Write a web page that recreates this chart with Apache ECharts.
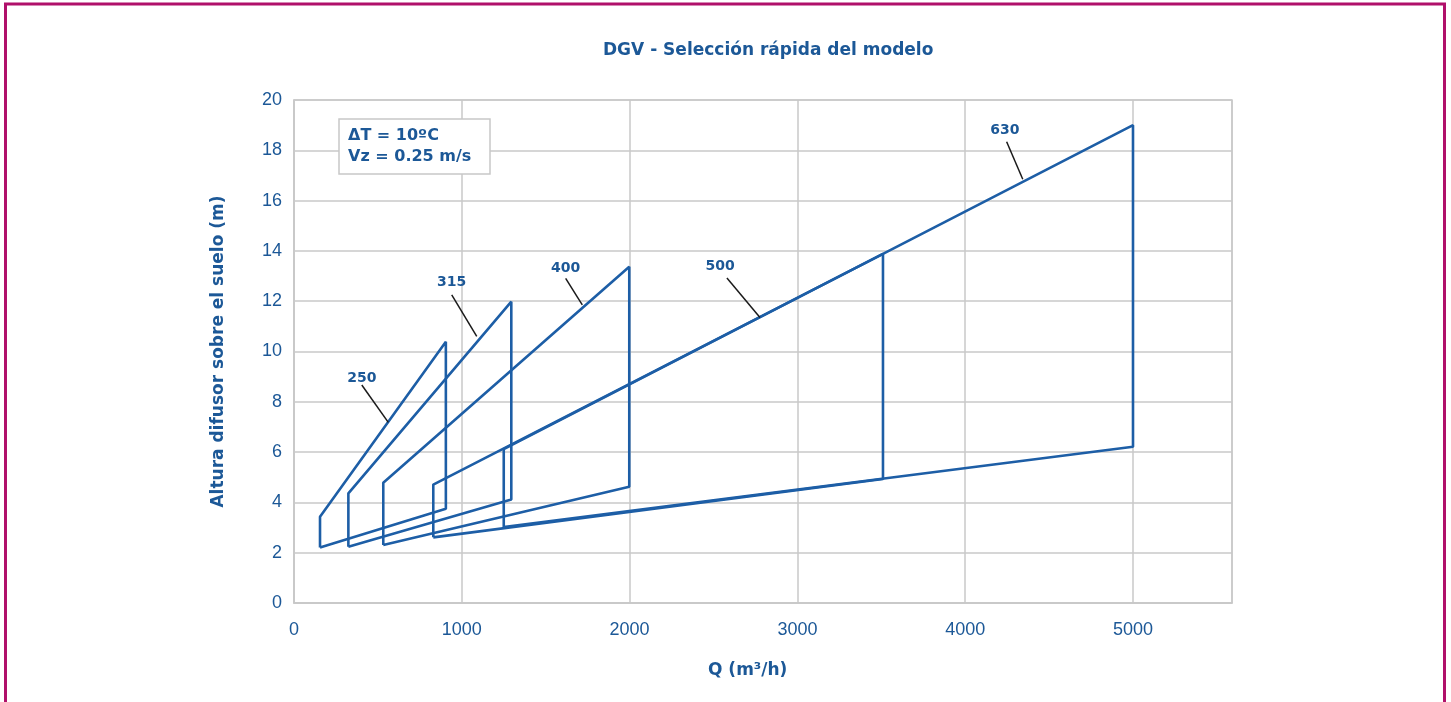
<!DOCTYPE html>
<html>
<head>
<meta charset="utf-8">
<script src="https://cdn.jsdelivr.net/npm/echarts@6/dist/echarts.min.js"></script>
<style>
html,body{margin:0;padding:0;background:#fff;}
#chart{width:1451px;height:702px;}
</style>
</head>
<body>
<div id="chart"></div>
<script>
// Models (diffuser size) and their selection boxes
var models = ['250', '315', '400', '500', '630'];
var qMin   = [155, 324, 532, 830, 1250];      // m3/h, left edge
var qMax   = [905, 1295, 1998, 3510, 5000];   // m3/h, right edge
var hLowAtMin  = [2.21, 2.24, 2.31, 2.61, 3.02];
var hHighAtMin = [3.43, 4.36, 4.78, 4.71, 6.12];
var hHighAtMax = [10.39, 11.98, 13.37, 13.88, 19.0];
var hLowAtMax  = [3.75, 4.12, 4.62, 4.93, 6.21];

// Callout labels: text anchor and leader line (data coordinates)
var labelAt    = [[404, 8.95], [940, 12.75], [1619, 13.3], [2539, 13.4], [4237, 18.8]];
var leaderFrom = [[404, 8.67], [940, 12.25], [1619, 12.91], [2580, 12.92], [4247, 18.34]];
var leaderTo   = [[562, 7.18], [1089, 10.6], [1718, 11.85], [2777, 11.35], [4343, 16.85]];

var xTicks = [0, 1000, 2000, 3000, 4000, 5000];
var yTicks = [0, 2, 4, 6, 8, 10, 12, 14, 16, 18, 20];

var BLUE = '#1d5ea6';
var TXT = '#1c5897';
var FONT = "'Liberation Sans', Arial, sans-serif";
var BFONT = "'DejaVu Sans', sans-serif";

var series = [];
models.forEach(function (m, i) {
  series.push({
    name: m,
    type: 'line',
    symbol: 'none',
    silent: true,
    lineStyle: { color: BLUE, width: 2.6 },
    data: [
      [qMin[i], hLowAtMin[i]],
      [qMin[i], hHighAtMin[i]],
      [qMax[i], hHighAtMax[i]],
      [qMax[i], hLowAtMax[i]],
      [qMin[i], hLowAtMin[i]]
    ],
    z: 3
  });
  series.push({
    type: 'line',
    symbol: 'none',
    silent: true,
    lineStyle: { color: '#1a1a1a', width: 1.5 },
    data: [leaderFrom[i], leaderTo[i]],
    z: 4
  });
});
series.push({
  type: 'scatter',
  symbolSize: 0.1,
  silent: true,
  itemStyle: { color: '#ffffff', opacity: 1 },
  label: {
    show: true, position: 'inside',
    formatter: function (p) { return models[p.dataIndex]; },
    color: TXT, fontFamily: BFONT, fontWeight: 'bold', fontSize: 14,
    textBorderWidth: 0
  },
  data: labelAt,
  z: 5
});

var chart = echarts.init(document.getElementById('chart'));
chart.setOption({
  animation: false,
  backgroundColor: '#fff',
  title: {
    text: 'DGV - Selección rápida del modelo',
    left: 598, top: 37,
    textStyle: { color: TXT, fontFamily: BFONT, fontWeight: 'bold', fontSize: 17 }
  },
  grid: {
    left: 294, right: 219, top: 100, bottom: 99,
    show: true, borderColor: '#c8c8c8', borderWidth: 1.5
  },
  xAxis: {
    type: 'value', min: 0, max: 5590, interval: 1000,
    axisLine: { show: true, lineStyle: { color: '#c8c8c8', width: 1.5 } },
    axisTick: { show: false },
    splitLine: { show: true, lineStyle: { color: '#c8c8c8', width: 1.5 } },
    axisLabel: {
      margin: 18, color: TXT, fontFamily: FONT, fontSize: 18,
      formatter: function (v) { return xTicks.indexOf(v) >= 0 ? String(v) : ''; }
    }
  },
  yAxis: {
    type: 'value', min: 0, max: 20, interval: 2,
    name: 'Altura difusor sobre el suelo (m)',
    nameLocation: 'middle', nameGap: 67, nameRotate: 90,
    nameTextStyle: { color: TXT, fontFamily: BFONT, fontWeight: 'bold', fontSize: 17 },
    axisLine: { show: true, lineStyle: { color: '#c8c8c8', width: 1.5 } },
    axisTick: { show: false },
    splitLine: { show: true, lineStyle: { color: '#c8c8c8', width: 1.5 } },
    axisLabel: {
      margin: 12, color: TXT, fontFamily: FONT, fontSize: 18,
      formatter: function (v) { return yTicks.indexOf(v) >= 0 ? String(v) : ''; }
    }
  },
  graphic: [
    {
      type: 'rect', silent: true,
      shape: { x: 5.5, y: 4, width: 1439, height: 720 },
      style: { fill: 'none', stroke: '#b0106a', lineWidth: 3 }, z: 100
    },
    {
      type: 'rect', silent: true,
      shape: { x: 339, y: 119, width: 151, height: 55 },
      style: { fill: '#fff', stroke: '#c8c8c8', lineWidth: 1.5 }, z: 50
    },
    {
      type: 'text', silent: true, left: 348, top: 125, z: 51,
      style: { text: 'ΔT = 10ºC\nVz = 0.25 m/s', fill: TXT, font: 'bold 16px ' + BFONT, lineHeight: 21 }
    },
    {
      type: 'text', silent: true, left: 708, top: 662, z: 51,
      style: { text: 'Q (m³/h)', fill: TXT, font: 'bold 17px ' + BFONT }
    }
  ],
  series: series
});
</script>
</body>
</html>
